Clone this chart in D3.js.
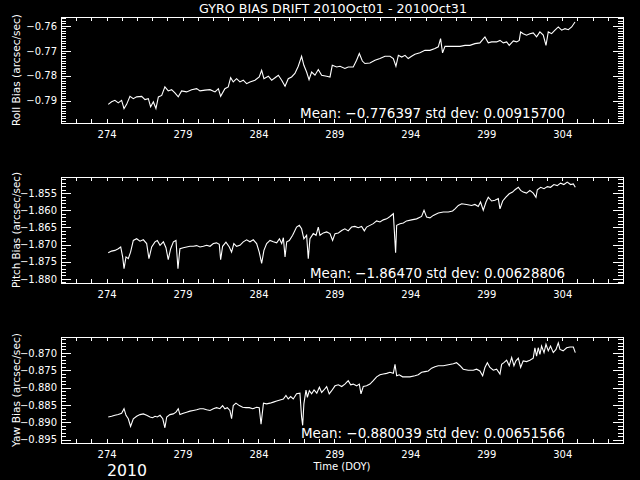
<!DOCTYPE html>
<html><head><meta charset="utf-8">
<script src="https://cdn.jsdelivr.net/npm/d3@7"></script>
<style>html,body{margin:0;padding:0;background:#000;}svg{display:block;}</style>
</head><body>
<script>
// ---------------- data ----------------
const titleText = "GYRO BIAS DRIFT 2010Oct01 - 2010Oct31";
const xLabel = "Time (DOY)";
const yearLabel = "2010";
const xRange = [271, 308];
const xTickDays = [274, 279, 284, 289, 294, 299, 304];
const panelLabels = ["Roll Bias (arcsec/sec)", "Pitch Bias (arcsec/sec)", "Yaw Bias (arcsec/sec)"];
const statTexts = [
  "Mean: \u22120.776397 std dev: 0.00915700",
  "Mean: \u22121.86470 std dev: 0.00628806",
  "Mean: \u22120.880039 std dev: 0.00651566"
];
const rollRange = [-0.7990, -0.7564];
const pitchRange = [-1.8812, -1.8503];
const yawRange = [-0.8960, -0.8654];
const rollTicks = [-0.79, -0.78, -0.77, -0.76];
const pitchTicks = [-1.880, -1.875, -1.870, -1.865, -1.860, -1.855];
const yawTicks = [-0.895, -0.890, -0.885, -0.880, -0.875, -0.870];

const rollData = [
[274.11,-0.7915],[274.33,-0.7905],[274.55,-0.7899],[274.77,-0.7909],[274.99,-0.7899],[275.15,-0.7932],[275.32,-0.7915],[275.54,-0.7883],[275.76,-0.7892],[275.98,-0.7885],
[276.31,-0.7883],[276.53,-0.7896],[276.75,-0.7892],[276.90,-0.7925],[277.08,-0.7905],[277.25,-0.7932],[277.41,-0.7885],[277.63,-0.7879],[277.84,-0.7845],[278.06,-0.7861],
[278.28,-0.7856],[278.50,-0.7869],[278.72,-0.7885],[278.94,-0.7861],[279.27,-0.7865],[279.60,-0.7856],[279.93,-0.7852],[280.15,-0.7861],[280.48,-0.7858],[280.81,-0.7856],
[281.14,-0.7865],[281.36,-0.7852],[281.51,-0.7883],[281.79,-0.7852],[282.01,-0.7845],[282.17,-0.7808],[282.34,-0.7825],[282.56,-0.7812],[282.78,-0.7825],[283.00,-0.7818],
[283.22,-0.7832],[283.44,-0.7825],[283.77,-0.7818],[284.05,-0.7805],[284.21,-0.7778],[284.36,-0.7812],[284.65,-0.7802],[284.87,-0.7818],[285.09,-0.7808],[285.31,-0.7798],
[285.53,-0.7818],[285.75,-0.7842],[285.96,-0.7812],[286.18,-0.7805],[286.40,-0.7791],[286.62,-0.7762],[286.84,-0.7722],[286.99,-0.7758],[287.17,-0.7785],[287.33,-0.7816],
[287.50,-0.7785],[287.72,-0.7798],[287.94,-0.7775],[288.16,-0.7798],[288.49,-0.7802],[288.71,-0.7805],[288.86,-0.7758],[289.15,-0.7765],[289.37,-0.7762],[289.69,-0.7771],
[289.91,-0.7765],[290.24,-0.7765],[290.46,-0.7738],[290.64,-0.7711],[290.84,-0.7741],[291.01,-0.7751],[291.34,-0.7749],[291.67,-0.7738],[292.00,-0.7731],[292.33,-0.7722],
[292.66,-0.7722],[292.88,-0.7731],[293.05,-0.7762],[293.21,-0.7718],[293.43,-0.7725],[293.65,-0.7718],[293.86,-0.7731],[294.08,-0.7722],[294.30,-0.7714],[294.63,-0.7708],
[294.96,-0.7698],[295.29,-0.7698],[295.62,-0.7691],[295.84,-0.7684],[295.99,-0.7651],[296.12,-0.7708],[296.28,-0.7682],[296.61,-0.7682],[296.94,-0.7682],[297.27,-0.7682],
[297.60,-0.7678],[297.92,-0.7678],[298.25,-0.7671],[298.58,-0.7668],[298.91,-0.7644],[299.13,-0.7668],[299.35,-0.7664],[299.68,-0.7664],[299.90,-0.7658],[300.12,-0.7668],
[300.34,-0.7664],[300.51,-0.7678],[300.78,-0.7660],[301.00,-0.7664],[301.17,-0.7658],[301.26,-0.7624],[301.43,-0.7631],[301.65,-0.7637],[301.87,-0.7631],[302.09,-0.7628],
[302.31,-0.7644],[302.53,-0.7624],[302.75,-0.7637],[302.93,-0.7678],[303.08,-0.7624],[303.30,-0.7631],[303.52,-0.7617],[303.74,-0.7604],[303.96,-0.7617],[304.18,-0.7611],
[304.40,-0.7615],[304.62,-0.7604],[304.84,-0.7584]
];

const pitchData = [
[274.11,-1.8724],[274.33,-1.8719],[274.55,-1.8717],[274.77,-1.8712],[274.93,-1.8707],[275.06,-1.8736],[275.15,-1.8770],[275.28,-1.8736],[275.43,-1.8741],[275.58,-1.8722],
[275.76,-1.8688],[275.98,-1.8683],[276.20,-1.8690],[276.42,-1.8686],[276.64,-1.8697],[276.79,-1.8741],[276.97,-1.8707],[277.19,-1.8692],[277.34,-1.8688],[277.52,-1.8702],
[277.74,-1.8692],[277.91,-1.8709],[278.06,-1.8744],[278.22,-1.8712],[278.40,-1.8692],[278.57,-1.8688],[278.70,-1.8770],[278.83,-1.8712],[279.05,-1.8709],[279.27,-1.8707],
[279.49,-1.8705],[279.71,-1.8705],[279.93,-1.8703],[280.15,-1.8707],[280.37,-1.8705],[280.59,-1.8702],[280.81,-1.8705],[281.03,-1.8697],[281.24,-1.8695],[281.42,-1.8699],
[281.51,-1.8744],[281.64,-1.8705],[281.86,-1.8693],[282.08,-1.8707],[282.23,-1.8722],[282.38,-1.8697],[282.56,-1.8705],[282.78,-1.8702],[283.00,-1.8692],[283.22,-1.8686],
[283.44,-1.8692],[283.66,-1.8686],[283.88,-1.8697],[284.05,-1.8722],[284.21,-1.8755],[284.36,-1.8717],[284.54,-1.8697],[284.76,-1.8688],[284.98,-1.8692],[285.20,-1.8695],
[285.38,-1.8683],[285.53,-1.8697],[285.64,-1.8680],[285.75,-1.8736],[285.86,-1.8692],[286.03,-1.8688],[286.25,-1.8673],[286.51,-1.8649],[286.69,-1.8644],[286.84,-1.8654],
[286.99,-1.8683],[287.17,-1.8673],[287.28,-1.8741],[287.39,-1.8683],[287.61,-1.8668],[287.79,-1.8673],[287.94,-1.8649],[288.05,-1.8673],[288.27,-1.8666],[288.49,-1.8663],
[288.71,-1.8668],[288.88,-1.8688],[289.04,-1.8668],[289.26,-1.8666],[289.48,-1.8659],[289.69,-1.8654],[289.91,-1.8660],[290.13,-1.8649],[290.35,-1.8647],[290.57,-1.8651],
[290.79,-1.8647],[290.97,-1.8660],[291.12,-1.8649],[291.34,-1.8644],[291.56,-1.8639],[291.78,-1.8631],[292.00,-1.8634],[292.22,-1.8628],[292.44,-1.8625],[292.66,-1.8618],
[292.88,-1.8610],[293.03,-1.8724],[293.10,-1.8644],[293.32,-1.8639],[293.54,-1.8637],[293.75,-1.8631],[294.08,-1.8628],[294.41,-1.8625],[294.74,-1.8618],[294.90,-1.8600],
[295.07,-1.8620],[295.29,-1.8622],[295.51,-1.8615],[295.84,-1.8608],[296.17,-1.8605],[296.50,-1.8605],[296.78,-1.8602],[296.94,-1.8596],[297.16,-1.8586],[297.38,-1.8581],
[297.70,-1.8583],[298.03,-1.8586],[298.25,-1.8583],[298.47,-1.8589],[298.62,-1.8576],[298.80,-1.8600],[298.98,-1.8576],[299.13,-1.8562],[299.35,-1.8573],[299.57,-1.8571],
[299.79,-1.8566],[299.90,-1.8596],[300.08,-1.8573],[300.29,-1.8562],[300.51,-1.8552],[300.73,-1.8547],[300.89,-1.8540],[301.11,-1.8533],[301.26,-1.8542],[301.43,-1.8547],
[301.65,-1.8550],[301.87,-1.8542],[302.09,-1.8550],[302.27,-1.8562],[302.36,-1.8540],[302.58,-1.8533],[302.80,-1.8537],[303.02,-1.8531],[303.23,-1.8533],[303.45,-1.8525],
[303.67,-1.8528],[303.89,-1.8521],[304.11,-1.8525],[304.33,-1.8518],[304.55,-1.8525],[304.73,-1.8523],[304.86,-1.8533]
];

const yawData = [
[274.11,-0.8885],[274.33,-0.8883],[274.55,-0.8880],[274.77,-0.8878],[274.99,-0.8874],[275.15,-0.8861],[275.28,-0.8880],[275.43,-0.8890],[275.58,-0.8912],[275.76,-0.8890],
[275.98,-0.8883],[276.20,-0.8878],[276.42,-0.8876],[276.64,-0.8880],[276.86,-0.8885],[277.03,-0.8887],[277.19,-0.8883],[277.34,-0.8885],[277.52,-0.8880],[277.70,-0.8890],
[277.84,-0.8916],[277.96,-0.8885],[278.17,-0.8878],[278.39,-0.8876],[278.57,-0.8871],[278.72,-0.8861],[278.83,-0.8878],[279.05,-0.8874],[279.27,-0.8871],[279.49,-0.8868],
[279.71,-0.8866],[279.93,-0.8864],[280.15,-0.8861],[280.37,-0.8861],[280.59,-0.8864],[280.81,-0.8866],[281.03,-0.8861],[281.24,-0.8858],[281.46,-0.8861],[281.64,-0.8852],
[281.79,-0.8861],[281.95,-0.8858],[282.12,-0.8866],[282.23,-0.8890],[282.34,-0.8852],[282.52,-0.8845],[282.74,-0.8852],[282.96,-0.8857],[283.18,-0.8858],[283.40,-0.8858],
[283.62,-0.8861],[283.88,-0.8857],[284.05,-0.8858],[284.17,-0.8906],[284.33,-0.8845],[284.54,-0.8847],[284.76,-0.8845],[284.98,-0.8842],[285.20,-0.8839],[285.42,-0.8836],
[285.64,-0.8833],[285.81,-0.8823],[285.96,-0.8833],[286.12,-0.8826],[286.29,-0.8833],[286.51,-0.8818],[286.73,-0.8816],[286.84,-0.8885],[286.91,-0.8909],[286.99,-0.8847],
[287.13,-0.8807],[287.22,-0.8828],[287.35,-0.8809],[287.50,-0.8818],[287.66,-0.8807],[287.84,-0.8816],[288.01,-0.8799],[288.16,-0.8814],[288.31,-0.8807],[288.49,-0.8797],
[288.66,-0.8818],[288.82,-0.8809],[289.04,-0.8795],[289.26,-0.8792],[289.48,-0.8797],[289.69,-0.8790],[289.91,-0.8780],[290.07,-0.8792],[290.24,-0.8790],[290.46,-0.8795],
[290.64,-0.8790],[290.75,-0.8818],[290.90,-0.8797],[291.12,-0.8795],[291.34,-0.8790],[291.56,-0.8780],[291.78,-0.8769],[292.00,-0.8763],[292.22,-0.8761],[292.44,-0.8759],
[292.66,-0.8756],[292.88,-0.8759],[292.99,-0.8733],[293.10,-0.8766],[293.27,-0.8763],[293.49,-0.8769],[293.71,-0.8769],[293.97,-0.8769],[294.30,-0.8766],[294.52,-0.8763],
[294.74,-0.8756],[294.96,-0.8754],[295.18,-0.8752],[295.40,-0.8744],[295.62,-0.8740],[295.84,-0.8737],[296.17,-0.8737],[296.50,-0.8734],[296.83,-0.8731],[297.04,-0.8728],
[297.27,-0.8737],[297.48,-0.8747],[297.81,-0.8750],[298.14,-0.8750],[298.36,-0.8747],[298.58,-0.8752],[298.76,-0.8766],[298.91,-0.8742],[299.07,-0.8728],[299.24,-0.8742],
[299.46,-0.8750],[299.68,-0.8747],[299.90,-0.8761],[300.01,-0.8733],[300.16,-0.8728],[300.34,-0.8721],[300.51,-0.8737],[300.67,-0.8713],[300.82,-0.8737],[300.95,-0.8723],
[301.11,-0.8715],[301.26,-0.8742],[301.43,-0.8723],[301.65,-0.8725],[301.87,-0.8721],[302.09,-0.8715],[302.20,-0.8685],[302.31,-0.8709],[302.42,-0.8685],[302.53,-0.8704],
[302.64,-0.8680],[302.80,-0.8699],[302.93,-0.8675],[303.08,-0.8694],[303.23,-0.8680],[303.41,-0.8699],[303.59,-0.8690],[303.74,-0.8671],[303.85,-0.8690],[304.06,-0.8694],
[304.29,-0.8685],[304.51,-0.8683],[304.73,-0.8683],[304.86,-0.8699]
];

// ---------------- layout ----------------
const W = 640, H = 480;
const plotLeft = 61, plotRight = 623, plotH = 106;
const panelTops = [17, 177, 337];
const fontFam = "'DejaVu Sans', 'Liberation Sans', sans-serif";

const panels = [
  {data: rollData, range: rollRange, ticks: rollTicks, fmt: d3.format(".2f"), label: panelLabels[0], labelLen: 112, stat: statTexts[0], statX: 300, statLen: 265},
  {data: pitchData, range: pitchRange, ticks: pitchTicks, fmt: d3.format(".3f"), label: panelLabels[1], labelLen: 116, stat: statTexts[1], statX: 310, statLen: 255},
  {data: yawData, range: yawRange, ticks: yawTicks, fmt: d3.format(".3f"), label: panelLabels[2], labelLen: 114, stat: statTexts[2], statX: 301, statLen: 264}
];

const svg = d3.select("body").append("svg")
  .attr("width", W).attr("height", H)
  .style("background", "#000");

svg.append("rect").attr("width", W).attr("height", H).attr("fill", "#000");

const x = d3.scaleLinear().domain(xRange).range([plotLeft, plotRight]);
const dayTicks = d3.range(xRange[0], xRange[1] + 1);

svg.append("text")
  .attr("x", 333).attr("y", 12.5)
  .attr("text-anchor", "middle")
  .attr("fill", "#fff")
  .style("font-family", fontFam).style("font-size", "12px")
  .attr("textLength", 268).attr("lengthAdjust", "spacingAndGlyphs")
  .text(titleText);

function styleAxis(sel) {
  sel.select(".domain").remove();
  sel.selectAll(".tick line").attr("stroke", "#fff").attr("shape-rendering", "crispEdges");
  sel.selectAll(".tick text").attr("fill", "#fff")
    .style("font-family", fontFam).style("font-size", "10px");
}

panels.forEach((p, i) => {
  const g = svg.append("g").attr("transform", `translate(0,${panelTops[i]})`);
  const y = d3.scaleLinear().domain(p.range).range([plotH, 0]);
  const minor = d3.range(Math.ceil(p.range[0] * 1000), Math.floor(p.range[1] * 1000) + 1).map(k => k / 1000);

  // frame
  g.append("rect")
    .attr("x", plotLeft + 0.5).attr("y", 0.5)
    .attr("width", plotRight - plotLeft).attr("height", plotH)
    .attr("fill", "none").attr("stroke", "#fff").attr("stroke-width", 1)
    .attr("shape-rendering", "crispEdges");

  // x axes
  g.append("g").attr("transform", `translate(0,${plotH})`)
    .call(d3.axisBottom(x).tickValues(dayTicks).tickSize(-4).tickFormat(""))
    .call(styleAxis);
  g.append("g").attr("transform", `translate(0,${plotH})`)
    .call(d3.axisBottom(x).tickValues(xTickDays).tickSize(-4).tickPadding(8).tickFormat(d3.format("d")))
    .call(styleAxis);
  g.append("g")
    .call(d3.axisTop(x).tickValues(dayTicks).tickSize(-4).tickFormat(""))
    .call(styleAxis);

  // y axes
  g.append("g").attr("transform", `translate(${plotLeft},0)`)
    .call(d3.axisLeft(y).tickValues(minor).tickSize(-5).tickFormat(""))
    .call(styleAxis);
  g.append("g").attr("transform", `translate(${plotLeft},0)`)
    .call(d3.axisLeft(y).tickValues(p.ticks).tickSize(-10).tickPadding(4).tickFormat(p.fmt))
    .call(styleAxis);
  g.append("g").attr("transform", `translate(${plotRight},0)`)
    .call(d3.axisRight(y).tickValues(minor).tickSize(-5).tickFormat(""))
    .call(styleAxis);
  g.append("g").attr("transform", `translate(${plotRight},0)`)
    .call(d3.axisRight(y).tickValues(p.ticks).tickSize(-10).tickFormat(""))
    .call(styleAxis);

  // data line
  const line = d3.line().x(d => x(d[0])).y(d => y(d[1]));
  g.append("path").datum(p.data)
    .attr("d", line)
    .attr("fill", "none").attr("stroke", "#fff").attr("stroke-width", 1.1)
    .attr("stroke-linejoin", "miter");

  // stats text
  g.append("text")
    .attr("x", p.statX).attr("y", 100.5)
    .attr("fill", "#fff")
    .style("font-family", fontFam).style("font-size", "14px")
    .attr("textLength", p.statLen).attr("lengthAdjust", "spacingAndGlyphs")
    .text(p.stat);

  // y label
  g.append("text")
    .attr("transform", `translate(19.5,${plotH / 2}) rotate(-90)`)
    .attr("text-anchor", "middle")
    .attr("fill", "#fff")
    .style("font-family", fontFam).style("font-size", "11px")
    .attr("textLength", p.labelLen).attr("lengthAdjust", "spacingAndGlyphs")
    .text(p.label);
});

svg.append("text")
  .attr("x", 342).attr("y", 470)
  .attr("text-anchor", "middle")
  .attr("fill", "#fff")
  .style("font-family", fontFam).style("font-size", "10.5px")
  .attr("textLength", 57).attr("lengthAdjust", "spacingAndGlyphs")
  .text(xLabel);

svg.append("text")
  .attr("x", 107).attr("y", 476)
  .attr("fill", "#fff")
  .style("font-family", fontFam).style("font-size", "15px")
  .attr("textLength", 40).attr("lengthAdjust", "spacingAndGlyphs")
  .text(yearLabel);
</script>
</body></html>
